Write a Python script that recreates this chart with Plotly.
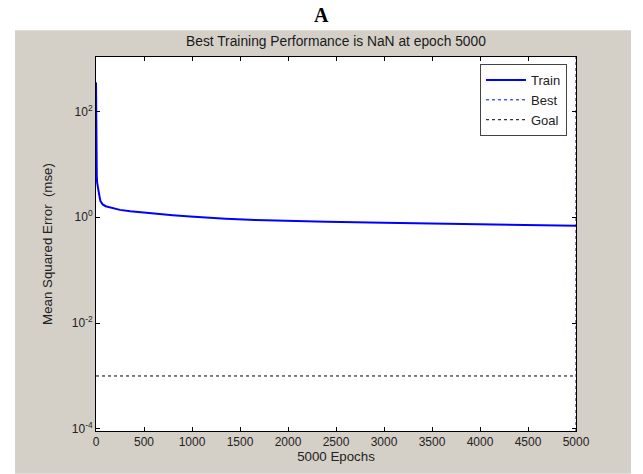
import plotly.graph_objects as go

# Data
epochs = [0, 1, 2, 3, 5, 8, 12, 20, 30, 45, 70, 100, 150, 250, 357, 500, 640, 800,
          980, 1200, 1350, 1660, 2000, 2400, 3000, 3600, 4000, 4400, 5000]
train_mse = [355, 120, 40, 20, 10, 6, 4.5, 3.5, 2.9, 2.05, 1.75, 1.62, 1.52, 1.38, 1.3,
             1.22, 1.15, 1.09, 1.03, 0.97, 0.94, 0.89, 0.85, 0.82, 0.79, 0.76, 0.74,
             0.72, 0.69]
best_epoch = 5000
goal = 1e-3
x_ticks = [0, 500, 1000, 1500, 2000, 2500, 3000, 3500, 4000, 4500, 5000]
y_tickvals = [1e-4, 1e-2, 1, 1e2]
y_ticktext = ["10<sup>-4</sup>", "10<sup>-2</sup>", "10<sup>0</sup>", "10<sup>2</sup>"]

ylog_range = [-4.04, 3.03]

fig = go.Figure()
fig.add_trace(go.Scatter(x=epochs, y=train_mse, mode="lines", name="Train",
                         line=dict(color="#0000ff", width=2)))
fig.add_trace(go.Scatter(x=[best_epoch, best_epoch],
                         y=[10 ** ylog_range[0], 10 ** ylog_range[1]],
                         mode="lines", name="Best",
                         line=dict(color="#0000ff", width=1, dash="dot")))
fig.add_trace(go.Scatter(x=[0, 5000], y=[goal, goal], mode="lines", name="Goal",
                         line=dict(color="#000000", width=1, dash="dot")))

L, R, T, B = 96, 67, 57, 41
W, H = 643, 474
pw, ph = W - L - R, H - T - B

def px2x(px):
    return (px - L) / pw

def py2y(py):
    return (H - B - py) / ph

fig.add_shape(type="rect", xref="paper", yref="paper",
              x0=px2x(15), x1=px2x(631), y0=py2y(476), y1=py2y(30),
              fillcolor="#d4d0c8", line=dict(width=0), layer="below")
fig.add_shape(type="rect", xref="paper", yref="paper",
              x0=0, x1=1, y0=0, y1=1,
              fillcolor="#ffffff", line=dict(width=0), layer="below")

fig.add_annotation(text="<b>A</b>", xref="paper", yref="paper",
                   x=px2x(321.5), y=py2y(15), showarrow=False,
                   xanchor="center", yanchor="middle",
                   font=dict(family="Liberation Serif", size=20, color="#000"))
fig.add_annotation(text="Best Training Performance is NaN at epoch 5000",
                   xref="paper", yref="paper", x=0.5, y=py2y(41), showarrow=False,
                   xanchor="center", yanchor="middle",
                   font=dict(family="Liberation Sans", size=13.8, color="#1a1a1a"))

fig.update_layout(
    width=W, height=H,
    margin=dict(l=L, r=R, t=T, b=B),
    paper_bgcolor="#ffffff",
    plot_bgcolor="rgba(0,0,0,0)",
    font=dict(family="Liberation Sans", size=12, color="#222"),
    showlegend=True,
    legend=dict(x=px2x(567), y=py2y(64), xanchor="right", yanchor="top",
                bgcolor="#ffffff", bordercolor="#444", borderwidth=1,
                font=dict(size=13, color="#222"), tracegroupgap=0,
                itemwidth=40),
)
fig.update_xaxes(range=[0, 5000], tickvals=x_ticks, ticks="inside", ticklen=4,
                 tickcolor="#000", showline=True, linecolor="#000", linewidth=1,
                 mirror="ticks", showgrid=False, zeroline=False,
                 title=dict(text="5000 Epochs", standoff=3, font=dict(size=13.3)))
fig.update_yaxes(type="log", range=ylog_range, tickvals=y_tickvals,
                 ticktext=y_ticktext, ticks="inside", ticklen=4, tickcolor="#000",
                 showline=True, linecolor="#000", linewidth=1, mirror="ticks",
                 showgrid=False, zeroline=False,
                 title=dict(text="Mean Squared Error  (mse)", standoff=16,
                            font=dict(size=13.3)))

fig.write_html("out.html", config={"displayModeBar": False},
               post_script="document.body.style.margin='0';")
